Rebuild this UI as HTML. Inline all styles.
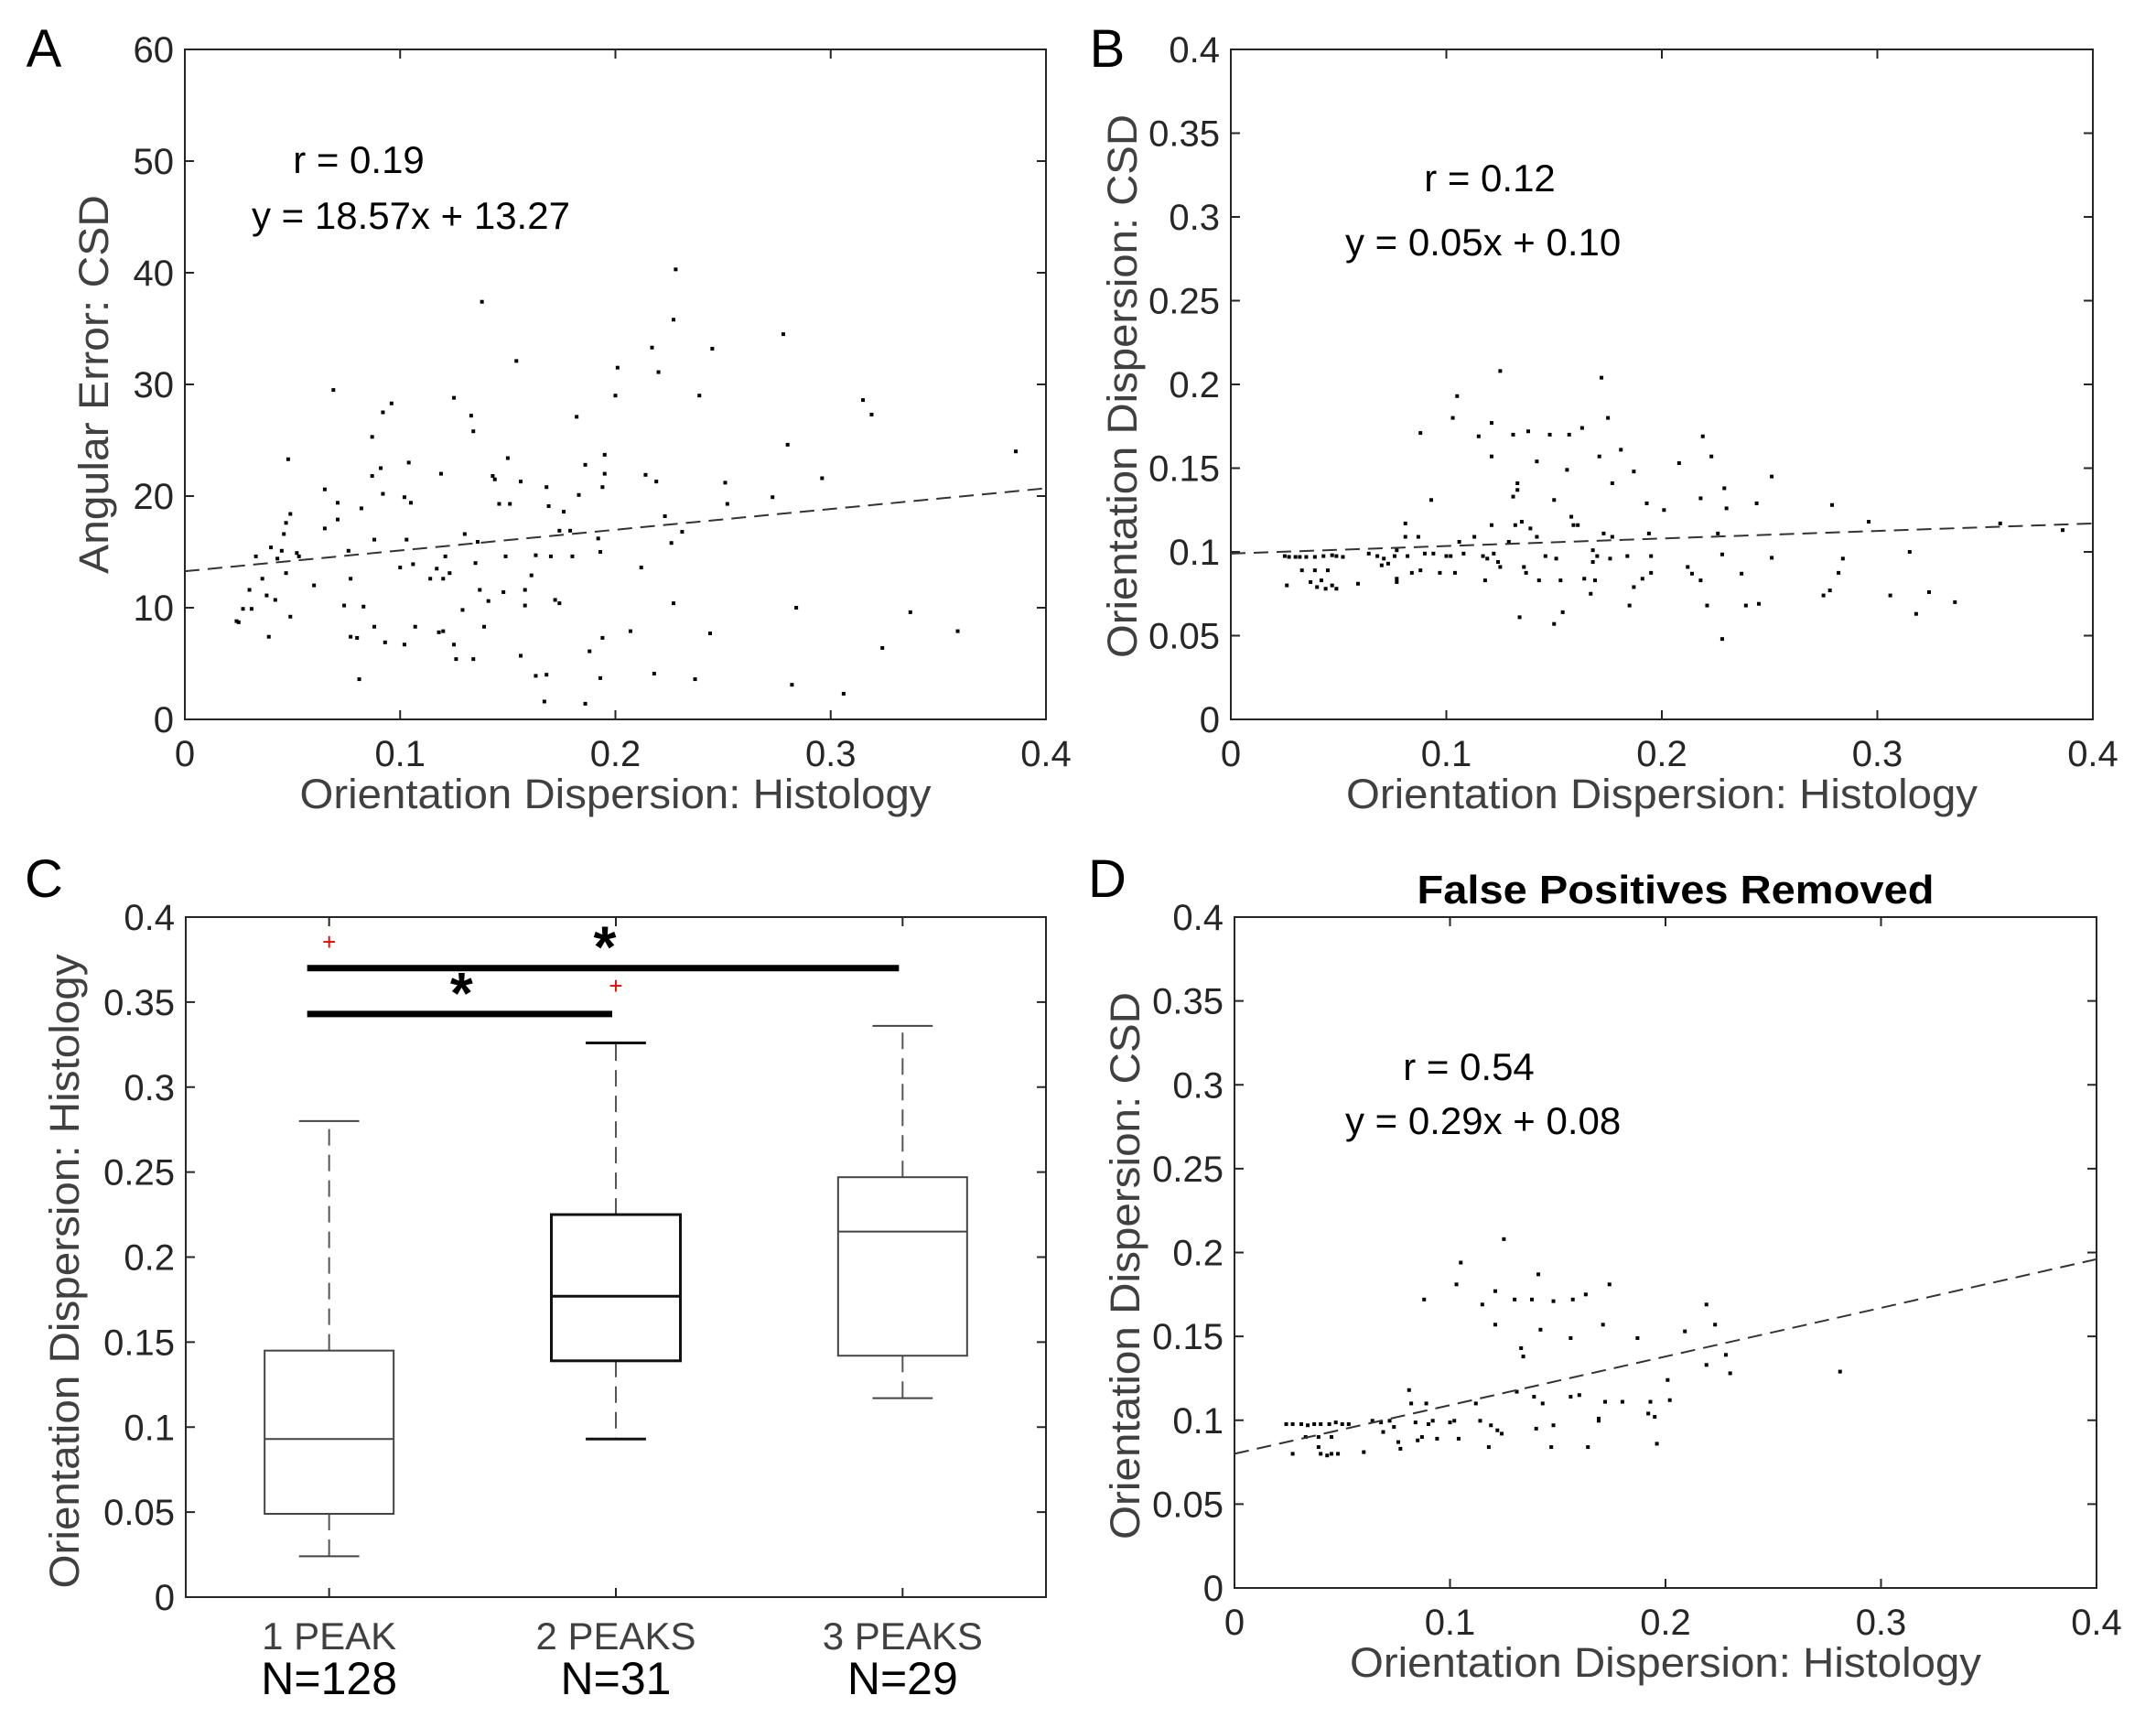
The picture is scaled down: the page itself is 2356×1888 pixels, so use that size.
<!DOCTYPE html>
<html><head><meta charset="utf-8"><style>
html,body{margin:0;padding:0;background:#fff}
svg{display:block}
text{font-family:"Liberation Sans",sans-serif}
</style></head><body>
<svg id="fig" xmlns="http://www.w3.org/2000/svg" width="2356" height="1888" viewBox="0 0 2356 1888">
<rect x="0" y="0" width="2356" height="1888" fill="#fff"/>
</svg>
<script>
// ---------- Panel A data ----------
const aX=[0.024,0.025,0.027,0.031,0.03,0.033,0.036,0.038,0.039,0.04,0.042,0.043,0.045,0.046,0.047,0.048,0.049,0.049,0.047,0.052,0.053,0.06,0.065,0.065,0.069,0.071,0.071,0.074,0.076,0.077,0.077,0.08,0.081,0.082,0.083,0.087,0.087,0.088,0.088,0.091,0.092,0.092,0.093,0.096,0.1,0.102,0.102,0.103,0.104,0.105,0.106,0.107,0.114,0.117,0.118,0.119,0.12,0.12,0.121,0.123,0.125,0.125,0.126,0.129,0.13,0.133,0.134,0.134,0.135,0.136,0.137,0.138,0.139,0.141,0.143,0.144,0.146,0.148,0.149,0.15,0.151,0.154,0.156,0.156,0.158,0.158,0.161,0.163,0.163,0.167,0.168,0.169,0.168,0.17,0.172,0.174,0.174,0.176,0.179,0.18,0.182,0.183,0.186,0.186,0.188,0.192,0.193,0.193,0.194,0.194,0.195,0.195,0.2,0.201,0.207,0.212,0.214,0.217,0.218,0.219,0.22,0.223,0.226,0.227,0.227,0.228,0.231,0.237,0.239,0.244,0.245,0.251,0.252,0.273,0.278,0.28,0.282,0.284,0.296,0.306,0.315,0.319,0.324,0.337,0.359,0.386];
const aY=[8.8,8.7,9.9,9.9,11.6,14.6,12.6,11.1,7.4,15.4,10.7,14.4,15.1,16.6,17.6,23.3,9.2,18.4,13.1,14.9,14.6,12.0,20.6,17.1,29.5,19.4,17.9,10.2,15.1,12.6,7.4,7.3,3.6,18.9,10.1,25.3,21.8,16.1,8.3,22.5,27.5,20.2,6.9,28.3,13.6,19.9,6.7,16.1,23.0,19.4,13.9,8.3,12.6,13.5,7.8,22.0,7.9,12.6,14.6,13.1,28.8,6.7,5.4,9.8,16.6,27.2,25.8,5.4,14.0,15.9,11.6,37.4,8.3,10.6,21.8,21.5,19.3,11.4,14.6,23.4,19.3,32.1,5.7,21.3,10.2,11.6,12.9,14.7,3.9,1.6,20.8,19.1,4.0,14.6,10.7,10.4,16.9,18.6,16.9,14.6,27.1,20.1,22.8,1.4,6.1,16.2,15.0,3.7,7.3,20.8,23.7,22.0,29.0,31.5,7.9,13.6,21.9,33.3,4.1,21.3,31.1,18.2,15.8,10.4,35.8,40.3,16.8,3.6,29.0,7.7,33.2,21.2,19.3,19.9,34.5,24.6,3.1,10.0,21.6,2.3,28.6,27.3,6.4,9.6,7.9,24.0];
const aFit=[18.57,13.27];
// ---------- Panel B data ----------
const bX=[0.026,0.025,0.027,0.030,0.032,0.035,0.039,0.043,0.047,0.049,0.052,0.033,0.039,0.045,0.037,0.040,0.044,0.047,0.049,0.042,0.059,0.064,0.068,0.071,0.073,0.070,0.077,0.077,0.076,0.077,0.081,0.081,0.082,0.084,0.087,0.088,0.088,0.090,0.093,0.094,0.097,0.100,0.102,0.103,0.104,0.105,0.106,0.108,0.113,0.115,0.117,0.118,0.119,0.121,0.121,0.121,0.122,0.124,0.125,0.125,0.129,0.131,0.131,0.132,0.133,0.133,0.134,0.135,0.136,0.137,0.138,0.139,0.142,0.142,0.143,0.146,0.148,0.150,0.150,0.151,0.153,0.154,0.156,0.157,0.158,0.159,0.161,0.163,0.164,0.167,0.168,0.168,0.169,0.170,0.171,0.172,0.173,0.175,0.176,0.177,0.177,0.181,0.184,0.185,0.187,0.187,0.191,0.193,0.194,0.195,0.195,0.201,0.208,0.212,0.214,0.218,0.218,0.219,0.221,0.223,0.226,0.228,0.228,0.229,0.230,0.237,0.239,0.244,0.245,0.251,0.251,0.279,0.278,0.275,0.282,0.284,0.296,0.306,0.315,0.318,0.324,0.336,0.357,0.386];
const bY=[0.080,0.0975,0.097,0.097,0.097,0.097,0.097,0.0975,0.098,0.0975,0.097,0.089,0.089,0.089,0.082,0.079,0.078,0.080,0.078,0.083,0.081,0.099,0.0975,0.096,0.093,0.092,0.084,0.082,0.0975,0.101,0.117,0.109,0.0975,0.0875,0.109,0.089,0.171,0.099,0.131,0.099,0.0875,0.0975,0.0975,0.180,0.0875,0.193,0.106,0.099,0.109,0.169,0.0975,0.083,0.096,0.177,0.157,0.116,0.099,0.094,0.208,0.091,0.106,0.133,0.170,0.116,0.141,0.137,0.061,0.118,0.091,0.0875,0.172,0.114,0.154,0.109,0.083,0.0975,0.170,0.131,0.057,0.096,0.083,0.064,0.149,0.170,0.121,0.116,0.116,0.174,0.084,0.075,0.101,0.094,0.083,0.0975,0.157,0.204,0.111,0.180,0.096,0.141,0.109,0.161,0.0975,0.068,0.079,0.148,0.084,0.129,0.111,0.0975,0.0875,0.125,0.153,0.091,0.087,0.083,0.132,0.169,0.068,0.157,0.111,0.0985,0.048,0.138,0.126,0.087,0.068,0.129,0.069,0.145,0.0965,0.128,0.077,0.074,0.0875,0.096,0.118,0.074,0.100,0.063,0.076,0.070,0.117,0.113];
const bFit=[0.045,0.099];
// ---------- Panel D data ----------
const dX=[0.024,0.027,0.031,0.034,0.037,0.040,0.044,0.047,0.050,0.053,0.027,0.033,0.039,0.040,0.043,0.045,0.048,0.039,0.045,0.060,0.064,0.068,0.069,0.072,0.074,0.076,0.077,0.081,0.082,0.084,0.085,0.087,0.088,0.089,0.090,0.092,0.094,0.100,0.102,0.103,0.104,0.105,0.112,0.114,0.115,0.118,0.119,0.121,0.121,0.122,0.124,0.125,0.130,0.131,0.133,0.134,0.138,0.139,0.140,0.141,0.142,0.143,0.147,0.148,0.148,0.156,0.156,0.157,0.160,0.163,0.164,0.169,0.169,0.171,0.172,0.174,0.180,0.187,0.192,0.193,0.195,0.196,0.201,0.202,0.209,0.219,0.219,0.223,0.228,0.230,0.281];
const dY=[0.0977,0.0977,0.0977,0.097,0.0977,0.0977,0.0977,0.0987,0.0977,0.0977,0.080,0.090,0.084,0.080,0.079,0.080,0.080,0.090,0.090,0.081,0.0997,0.0987,0.093,0.0997,0.096,0.087,0.083,0.118,0.110,0.0987,0.088,0.090,0.172,0.110,0.0977,0.0997,0.089,0.0987,0.0997,0.181,0.089,0.194,0.110,0.0997,0.169,0.084,0.097,0.177,0.157,0.094,0.092,0.208,0.172,0.117,0.143,0.138,0.172,0.114,0.095,0.187,0.154,0.110,0.084,0.171,0.097,0.149,0.114,0.172,0.115,0.175,0.084,0.101,0.0997,0.157,0.111,0.181,0.111,0.149,0.104,0.111,0.102,0.086,0.124,0.112,0.153,0.133,0.169,0.157,0.139,0.128,0.129];
const dFit=[0.29,0.08];
// ---------- Panel C data ----------
const cCats=["1 PEAK","2 PEAKS","3 PEAKS"];
const cN=["N=128","N=31","N=29"];
const cWlo=[0.024,0.093,0.117];
const cQ1=[0.049,0.139,0.142];
const cMed=[0.093,0.177,0.215];
const cQ3=[0.145,0.225,0.247];
const cWhi=[0.280,0.326,0.336];
const cOut=[[0.385],[0.359],[]];
const cSig=[[1,2,0.343],[1,3,0.370]];
const sciTicks=[0,0.05,0.1,0.15,0.2,0.25,0.3,0.35,0.4];
const sciLabels=["0","0.05","0.1","0.15","0.2","0.25","0.3","0.35","0.4"];
const xTicks=[0,0.1,0.2,0.3,0.4];
const xLabels=["0","0.1","0.2","0.3","0.4"];
const aYTicks=[0,10,20,30,40,50,60];
const aYLabels=["0","10","20","30","40","50","60"];

const svg=document.getElementById('fig');
const NS='http://www.w3.org/2000/svg';
function mk(tag,attrs,parent){const e=document.createElementNS(NS,tag);for(const k in attrs)e.setAttribute(k,attrs[k]);(parent||svg).appendChild(e);return e;}
function txt(s,attrs,parent){const e=mk('text',attrs,parent);e.textContent=s;return e;}

function axes(name,L,R,T,B,xmin,xmax,ymin,ymax,xt,xl,yt,yl,xtitle,ytitle,ytc,ytlen){
  const g=mk('g',{});
  
  
  const sx=v=>L+(v-xmin)/(xmax-xmin)*(R-L);
  const sy=v=>B-(v-ymin)/(ymax-ymin)*(B-T);
  const fr=mk('rect',{x:L,y:T,width:R-L,height:B-T,fill:'none',stroke:'#262626','stroke-width':2},g);
  
  
  if(xt){xt.forEach((v,i)=>{const x=sx(v);
    mk('line',{x1:x,x2:x,y1:B,y2:B-10,stroke:'#262626','stroke-width':2},g);
    mk('line',{x1:x,x2:x,y1:T,y2:T+10,stroke:'#262626','stroke-width':2},g);
    const t=txt(xl[i],{x:x,y:B+51,'font-size':40,fill:'#262626','text-anchor':'middle'},g);
    
    });}
  yt.forEach((v,i)=>{const y=sy(v);
    mk('line',{x1:L,x2:L+10,y1:y,y2:y,stroke:'#262626','stroke-width':2},g);
    mk('line',{x1:R,x2:R-10,y1:y,y2:y,stroke:'#262626','stroke-width':2},g);
    const t=txt(yl[i],{x:L-12,y:y+14,'font-size':40,fill:'#262626','text-anchor':'end'},g);
    
    });
  if(xtitle){const t=txt(xtitle,{x:(L+R)/2,y:B+97,'font-size':45,fill:'#404040','text-anchor':'middle',textLength:690,lengthAdjust:'spacingAndGlyphs'},g);
    
    }
  const yt2=txt(ytitle,{x:0,y:0,'font-size':45,fill:'#404040','text-anchor':'middle',textLength:ytlen,lengthAdjust:'spacingAndGlyphs',transform:`translate(${ytc[0]},${ytc[1]}) rotate(-90)`},g);
  
  
  return {sx,sy,g};
}
function scatter(ax,X,Y,fit,L,R,xmin,xmax,name){
  X.forEach((x,i)=>{const r=mk('rect',{x:ax.sx(x)-2,y:ax.sy(Y[i])-2,width:4,height:4,fill:'#000'},ax.g);
    
    });
  const ln=mk('line',{x1:ax.sx(xmin),y1:ax.sy(fit[0]*xmin+fit[1]),x2:ax.sx(xmax),y2:ax.sy(fit[0]*xmax+fit[1]),stroke:'#333','stroke-width':2,'stroke-dasharray':'16,9'},ax.g);
  
  
}
function letter(s,x,y,name){const t=txt(s,{x:x,y:y,'font-size':58,fill:'#000','text-anchor':'middle'});
  
  }
function ann(s,x,y,anchor,name){const t=txt(s,{x:x,y:y,'font-size':42,fill:'#000','text-anchor':anchor});
  
  }

// Panel A
const A=axes('panel-a-axes',202,1143,54,786,0,0.4,0,60,xTicks,xLabels,aYTicks,aYLabels,'Orientation Dispersion: Histology','Angular Error: CSD',[118,420],414);
scatter(A,aX,aY,aFit,202,1143,0,0.4,'panel-a');
letter('A',48,73,'panel-a-letter');
ann('r = 0.19',392,189,'middle','panel-a-r-value');
ann('y = 18.57x + 13.27',275,250,'start','panel-a-equation');

// Panel B
const B=axes('panel-b-axes',1345,2287,54,786,0,0.4,0,0.4,xTicks,xLabels,sciTicks,sciLabels,'Orientation Dispersion: Histology','Orientation Dispersion: CSD',[1242,422],594);
scatter(B,bX,bY,bFit,1345,2287,0,0.4,'panel-b');
letter('B',1210,73,'panel-b-letter');
ann('r = 0.12',1628,209,'middle','panel-b-r-value');
ann('y = 0.05x + 0.10',1470,279,'start','panel-b-equation');

// Panel D
const D=axes('panel-d-axes',1349,2291,1002,1735,0,0.4,0,0.4,xTicks,xLabels,sciTicks,sciLabels,'Orientation Dispersion: Histology','Orientation Dispersion: CSD',[1245,1383],598);
scatter(D,dX,dY,dFit,1349,2291,0,0.4,'panel-d');
letter('D',1210,980,'panel-d-letter');
const dt=txt('False Positives Removed',{x:1831,y:987,'font-size':44,'font-weight':'bold',fill:'#000','text-anchor':'middle',textLength:565,lengthAdjust:'spacingAndGlyphs'});


ann('r = 0.54',1605,1180,'middle','panel-d-r-value');
ann('y = 0.29x + 0.08',1470,1239,'start','panel-d-equation');

// Panel C
const C=axes('panel-c-axes',203,1143,1002,1745,0.5,3.5,0,0.4,null,null,sciTicks,sciLabels,null,'Orientation Dispersion: Histology',[86,1389],693);
letter('C',48,980,'panel-c-letter');
cCats.forEach((c,i)=>{const x=C.sx(i+1);
  mk('line',{x1:x,x2:x,y1:1745,y2:1735,stroke:'#262626','stroke-width':2},C.g);
  mk('line',{x1:x,x2:x,y1:1002,y2:1012,stroke:'#262626','stroke-width':2},C.g);
  const t=txt(c,{x:x,y:1802,'font-size':42,fill:'#404040','text-anchor':'middle'});
  
  
  const n=txt(cN[i],{x:x,y:1851,'font-size':50,fill:'#000','text-anchor':'middle'});
  
  
  const col=i===1?'#111':'#444', sw=i===1?3:2;
  const bw=0.225, cw=0.105;
  const g=mk('g',{},C.g);
  
  
  mk('line',{x1:x,x2:x,y1:C.sy(cQ3[i]),y2:C.sy(cWhi[i]),stroke:'#555','stroke-width':2,'stroke-dasharray':'18,10'},g);
  mk('line',{x1:x,x2:x,y1:C.sy(cQ1[i]),y2:C.sy(cWlo[i]),stroke:'#555','stroke-width':2,'stroke-dasharray':'18,10'},g);
  mk('line',{x1:C.sx(i+1-cw),x2:C.sx(i+1+cw),y1:C.sy(cWhi[i]),y2:C.sy(cWhi[i]),stroke:col,'stroke-width':sw},g);
  mk('line',{x1:C.sx(i+1-cw),x2:C.sx(i+1+cw),y1:C.sy(cWlo[i]),y2:C.sy(cWlo[i]),stroke:col,'stroke-width':sw},g);
  mk('rect',{x:C.sx(i+1-bw),y:C.sy(cQ3[i]),width:C.sx(i+1+bw)-C.sx(i+1-bw),height:C.sy(cQ1[i])-C.sy(cQ3[i]),fill:'none',stroke:col,'stroke-width':sw},g);
  mk('line',{x1:C.sx(i+1-bw),x2:C.sx(i+1+bw),y1:C.sy(cMed[i]),y2:C.sy(cMed[i]),stroke:col,'stroke-width':sw},g);
  cOut[i].forEach(v=>{const o=txt('+',{x:x,y:C.sy(v)+8,'font-size':26,fill:'#e00','text-anchor':'middle'},g);
    
    });
});
cSig.forEach(s=>{const y=C.sy(s[2]);
  const l=mk('line',{x1:C.sx(s[0])-24,x2:C.sx(s[1])-4,y1:y,y2:y,stroke:'#000','stroke-width':7});
  
  
  const st=txt('*',{x:(C.sx(s[0])+C.sx(s[1]))/2-12,y:y-1,'font-size':64,'font-weight':'bold',fill:'#000','text-anchor':'middle'});
  
  });
</script>
</body></html>
